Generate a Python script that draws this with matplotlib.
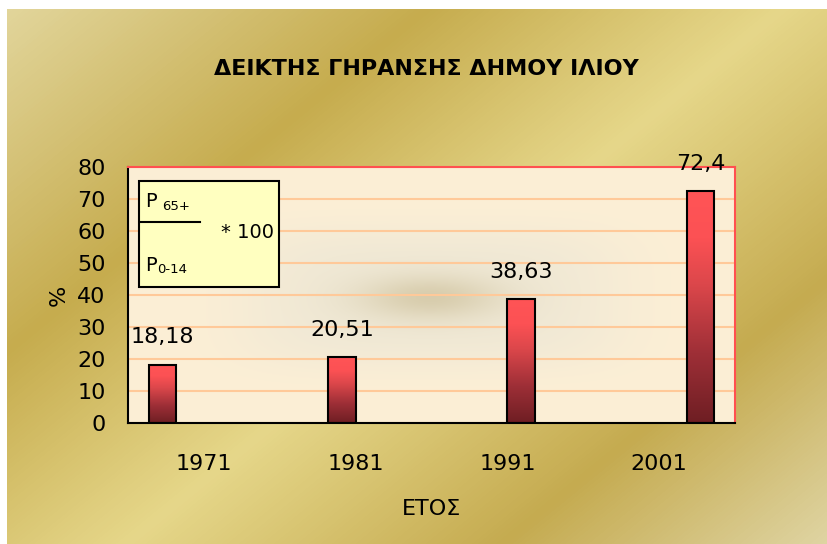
import matplotlib.pyplot as plt
import numpy as np
from matplotlib.colors import LinearSegmentedColormap, to_rgb
from matplotlib.lines import Line2D
from matplotlib.patches import Rectangle

# chart data
years = ["1971", "1981", "1991", "2001"]
values = [18.18, 20.51, 38.63, 72.4]
value_labels = ["18,18", "20,51", "38,63", "72,4"]
y_ticks = [0, 10, 20, 30, 40, 50, 60, 70, 80]

title = "ΔΕΙΚΤΗΣ ΓΗΡΑΝΣΗΣ ΔΗΜΟΥ ΙΛΙΟΥ"
x_label = "ΕΤΟΣ"
y_label = "%"

W, H = 827, 544
plt.rcParams["font.family"] = ["DejaVu Sans"]

# plot area in pixels (left, top, right, bottom)
PL, PT, PR, PB = 128, 167, 735, 423


def fig_xy(x, y):
    """Pixel position (from top-left) to figure fraction."""
    return x / W, 1 - y / H


def gold_background(w, h, x0, y0):
    stops = [(0.0, "#E3D79E"), (276 / 944, "#C6AC4E"), (500 / 944, "#E6D78A"),
             (740 / 944, "#C5AB50"), (1.0, "#DFD4A2")]
    cmap = LinearSegmentedColormap.from_list("gold", stops)
    yy, xx = np.mgrid[y0:y0 + h, x0:x0 + w]
    t = (0.632 * xx + 0.775 * yy) / 944
    return cmap(np.clip(t, 0, 1))


def plot_area_background(w, h):
    yy, xx = np.mgrid[0:h, 0:w]
    base = np.array(to_rgb("#FCEFD6"))
    grey = np.array(to_rgb("#EFE8D5"))
    spot = np.array(to_rgb("#D4C8A6"))
    cx, cy = 430 - PL, 297 - PT
    broad = np.exp(-(((xx - cx) / 190) ** 4 + ((yy - cy) / 70) ** 4))
    core = np.exp(-(((xx - cx) / 70) ** 2 + ((yy - cy) / 22) ** 2))
    img = base * (1 - broad[..., None]) + grey * broad[..., None]
    img = img * (1 - 0.85 * core[..., None]) + spot * 0.85 * core[..., None]
    return img


fig = plt.figure(figsize=(W / 100, H / 100), dpi=100, facecolor="white")

# gold chart background (white strip on the top and left edge)
bg = fig.add_axes([7 / W, 0, 1 - 7 / W, (H - 9) / H])
bg.imshow(gold_background(W - 7, H - 9, 7, 9), aspect="auto")
bg.axis("off")

ax_pos = [PL / W, (H - PB) / H, (PR - PL) / W, (PB - PT) / H]
pbg = fig.add_axes(ax_pos, zorder=1)
pbg.imshow(plot_area_background(PR - PL, PB - PT), aspect="auto")
pbg.axis("off")

ax = fig.add_axes(ax_pos, zorder=2)
ax.set_facecolor("none")

# each year is its own series in a 4-bar cluster
bar_cmap = LinearSegmentedColormap.from_list(
    "bar", [(0.0, "#6E1E23"), (0.3, "#9E2F37"), (0.6, "#DC474B"),
            (0.8, "#FC5154"), (1.0, "#FF5456")])
grad = np.linspace(0, 1, 256).reshape(-1, 1)
width = 0.182
for i, (v, lbl) in enumerate(zip(values, value_labels)):
    x = i + (i - 1.5) * width
    ax.imshow(grad, extent=(x - width / 2, x + width / 2, 0, v), origin="lower",
              cmap=bar_cmap, aspect="auto", zorder=2)
    ax.bar(x, v, width, facecolor="none", edgecolor="black", linewidth=1.5, zorder=3)
    ax.annotate(lbl, (x, v), xytext=(0, 20), textcoords="offset points",
                ha="center", va="center", fontsize=16)

ax.set_xlim(-0.5, len(years) - 0.5)
ax.set_ylim(0, 80)
ax.set_yticks(y_ticks)
ax.set_xticks(range(len(years)))
ax.set_xticklabels(years)
ax.yaxis.grid(True, color="#FFC999", linewidth=1.5)
ax.set_axisbelow(True)
ax.tick_params(length=0, labelsize=16)
ax.tick_params(axis="x", pad=22)
ax.tick_params(axis="y", pad=16)
for side in ["left", "bottom"]:
    ax.spines[side].set_color("black")
    ax.spines[side].set_linewidth(1.5)
for side in ["top", "right"]:
    ax.spines[side].set_color("#FF5050")
    ax.spines[side].set_linewidth(1.5)

ax.set_xlabel(x_label, fontsize=16, labelpad=18)
ax.set_ylabel(y_label, fontsize=16, labelpad=6)

fig.text(*fig_xy(426, 69), title, ha="center", va="center",
         fontsize=16, fontweight="bold")

# formula box: P65+ / P0-14 * 100
box_x0, box_y0 = (139 - PL) / (PR - PL), (PB - 287) / (PB - PT)
box_w, box_h = (279 - 139) / (PR - PL), (287 - 181) / (PB - PT)
ax.add_patch(Rectangle((box_x0, box_y0), box_w, box_h, transform=ax.transAxes,
                       facecolor="#FFFFC0", edgecolor="black", linewidth=1.5,
                       zorder=5, clip_on=False))
fig.text(*fig_xy(145, 207), "P", fontsize=14, va="baseline", zorder=6)
fig.text(*fig_xy(162, 210), "65+", fontsize=9.5, va="baseline", zorder=6)
fig.text(*fig_xy(221, 238), "* 100", fontsize=14, va="baseline", zorder=6)
fig.text(*fig_xy(145, 271), "P", fontsize=14, va="baseline", zorder=6)
fig.text(*fig_xy(157, 273), "0-14", fontsize=9.5, va="baseline", zorder=6)
lx0, ly = fig_xy(140, 222)
lx1, _ = fig_xy(200, 222)
fig.add_artist(Line2D([lx0, lx1], [ly, ly], color="black", linewidth=1.5, zorder=6))

fig.savefig("out.png", dpi=100, facecolor="white")
